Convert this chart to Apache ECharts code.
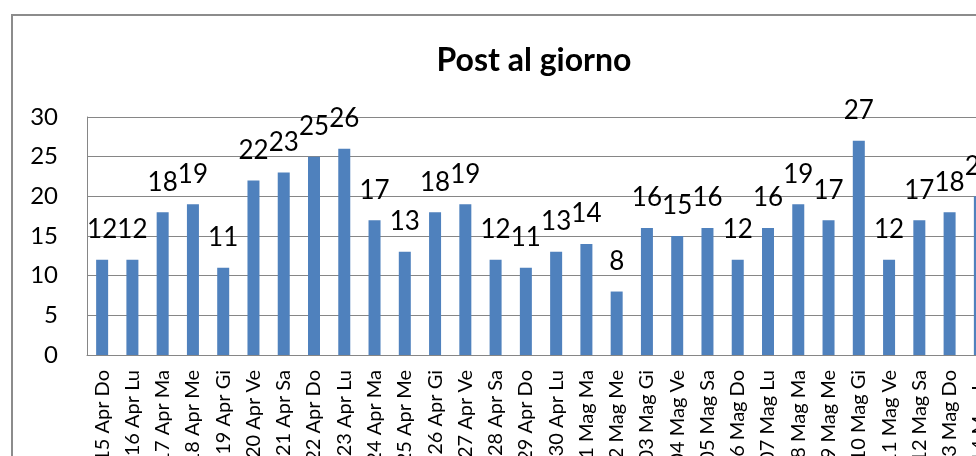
<!DOCTYPE html>
<html>
<head>
<meta charset="utf-8">
<script src="https://cdn.jsdelivr.net/npm/echarts@6/dist/echarts.min.js"></script>
<style>
html,body{margin:0;padding:0;background:#fff;overflow:hidden;width:976px;height:456px;}
#frame{position:absolute;left:11px;top:14px;width:1200px;height:700px;border:2px solid #8c8c8c;box-sizing:border-box;}
#chart{position:absolute;left:0;top:0;width:1068px;height:600px;}
</style>
</head>
<body>
<div id="frame"></div>
<div id="chart"></div>
<script>
const titleText = "Post al giorno";
const categories = ["15 Apr Do","16 Apr Lu","17 Apr Ma","18 Apr Me","19 Apr Gi","20 Apr Ve","21 Apr Sa","22 Apr Do","23 Apr Lu","24 Apr Ma","25 Apr Me","26 Apr Gi","27 Apr Ve","28 Apr Sa","29 Apr Do","30 Apr Lu","01 Mag Ma","02 Mag Me","03 Mag Gi","04 Mag Ve","05 Mag Sa","06 Mag Do","07 Mag Lu","08 Mag Ma","09 Mag Me","10 Mag Gi","11 Mag Ve","12 Mag Sa","13 Mag Do","14 Mag Lu"];
const posts = [12,12,18,19,11,22,23,25,26,17,13,18,19,12,11,13,14,8,16,15,16,12,16,19,17,27,12,17,18,20];
const yTicks = [0,5,10,15,20,25,30];

const FONT = "Lato, 'Liberation Sans', sans-serif";
const chart = echarts.init(document.getElementById('chart'), null, {renderer:'canvas'});
chart.setOption({
  animation:false,
  backgroundColor:'transparent',
  title:{
    text:titleText, left:'center', top:40,
    textStyle:{fontFamily:FONT, fontSize:32, fontWeight:'bold', color:'#000'}
  },
  grid:{left:87, top:117, width:908, height:238, containLabel:false},
  xAxis:{
    type:'category', data:categories,
    axisLine:{show:true, lineStyle:{color:'#868686', width:1}},
    axisTick:{show:false},
    axisLabel:{rotate:90, interval:0, margin:15, fontFamily:FONT, fontSize:20, color:'#000'}
  },
  yAxis:{
    type:'value', min:yTicks[0], max:yTicks[yTicks.length-1], interval:5,
    axisLine:{show:true, lineStyle:{color:'#868686', width:1}},
    axisTick:{show:false},
    splitLine:{show:true, lineStyle:{color:'#868686', width:1}},
    axisLabel:{margin:29, fontFamily:FONT, fontSize:24, color:'#000'}
  },
  series:[{
    type:'bar', data:posts, barWidth:12,
    itemStyle:{color:'#4F81BD'},
    label:{show:true, position:'top', distance:17, fontFamily:FONT, fontSize:26, color:'#000'}
  }]
});
</script>
</body>
</html>
